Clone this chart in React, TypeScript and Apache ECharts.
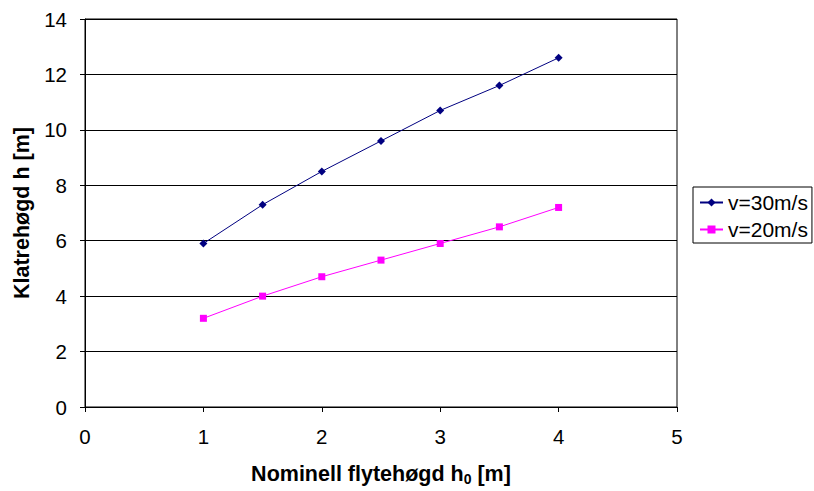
import React, { useEffect, useRef } from "react";
import * as echarts from "echarts";

const xValues = [1, 1.5, 2, 2.5, 3, 3.5, 4];
const v30 = [5.9, 7.3, 8.5, 9.6, 10.7, 11.6, 12.6];
const v20 = [3.2, 4.0, 4.7, 5.3, 5.9, 6.5, 7.2];
const seriesNames = ["v=30m/s", "v=20m/s"];

export default function App() {
  const ref = useRef<HTMLDivElement>(null);
  useEffect(() => {
    document.body.style.margin = "0";
    const chart = echarts.init(ref.current!, null, { renderer: "svg" });
    const font = "Liberation Sans, Arial, sans-serif";
    chart.setOption({
      animation: false,
      backgroundColor: "#ffffff",
      textStyle: { fontFamily: font },
      grid: { left: 85, top: 19, right: 137, bottom: 80, show: true, borderColor: "#000", borderWidth: 1, containLabel: false },
      xAxis: {
        type: "value",
        min: 0,
        max: 5,
        interval: 1,
        name: "{b|Nominell flytehøgd h}{s|0}{b| [m]}",
        nameLocation: "middle",
        nameGap: 55,
        nameTextStyle: {
          rich: {
            b: { fontSize: 21.5, fontWeight: "bold", fontFamily: font, color: "#000" },
            s: { fontSize: 14, fontWeight: "bold", fontFamily: font, color: "#000", verticalAlign: "bottom", padding: [10, 0, 0, 0] },
          },
        },
        axisLine: { show: true, onZero: false, lineStyle: { color: "#000", width: 1 } },
        axisTick: { show: true, length: 5, inside: false, lineStyle: { color: "#000" } },
        axisLabel: { fontSize: 20.5, color: "#000", margin: 19, fontFamily: font },
        splitLine: { show: false },
      },
      yAxis: {
        type: "value",
        min: 0,
        max: 14,
        interval: 2,
        name: "Klatrehøgd h [m]",
        nameLocation: "middle",
        nameGap: 52,
        nameTextStyle: { fontSize: 21.5, fontWeight: "bold", color: "#000", fontFamily: font },
        axisLine: { show: true, onZero: false, lineStyle: { color: "#000", width: 1 } },
        axisTick: { show: true, length: 5, inside: false, lineStyle: { color: "#000" } },
        axisLabel: { fontSize: 20.5, color: "#000", margin: 18, fontFamily: font },
        splitLine: { show: true, lineStyle: { color: "#000", width: 1 } },
      },
      legend: {
        orient: "vertical",
        left: 693,
        top: 187,
        padding: [5, 4, 3, 6],
        itemGap: 6,
        itemWidth: 23,
        itemHeight: 10,
        borderColor: "#000",
        borderWidth: 1,
        borderRadius: 0,
        textStyle: { fontSize: 21, color: "#000", fontFamily: font },
        data: seriesNames,
      },
      series: [
        {
          name: seriesNames[0],
          type: "line",
          data: xValues.map((x, i) => [x, v30[i]]),
          symbol: "diamond",
          symbolSize: 8,
          itemStyle: { color: "#000080" },
          lineStyle: { color: "#000080", width: 1 },
        },
        {
          name: seriesNames[1],
          type: "line",
          data: xValues.map((x, i) => [x, v20[i]]),
          symbol: "rect",
          symbolSize: 7,
          itemStyle: { color: "#FF00FF" },
          lineStyle: { color: "#FF00FF", width: 1 },
        },
      ],
    });
    return () => chart.dispose();
  }, []);
  return <div ref={ref} style={{ width: 814, height: 491 }} />;
}
